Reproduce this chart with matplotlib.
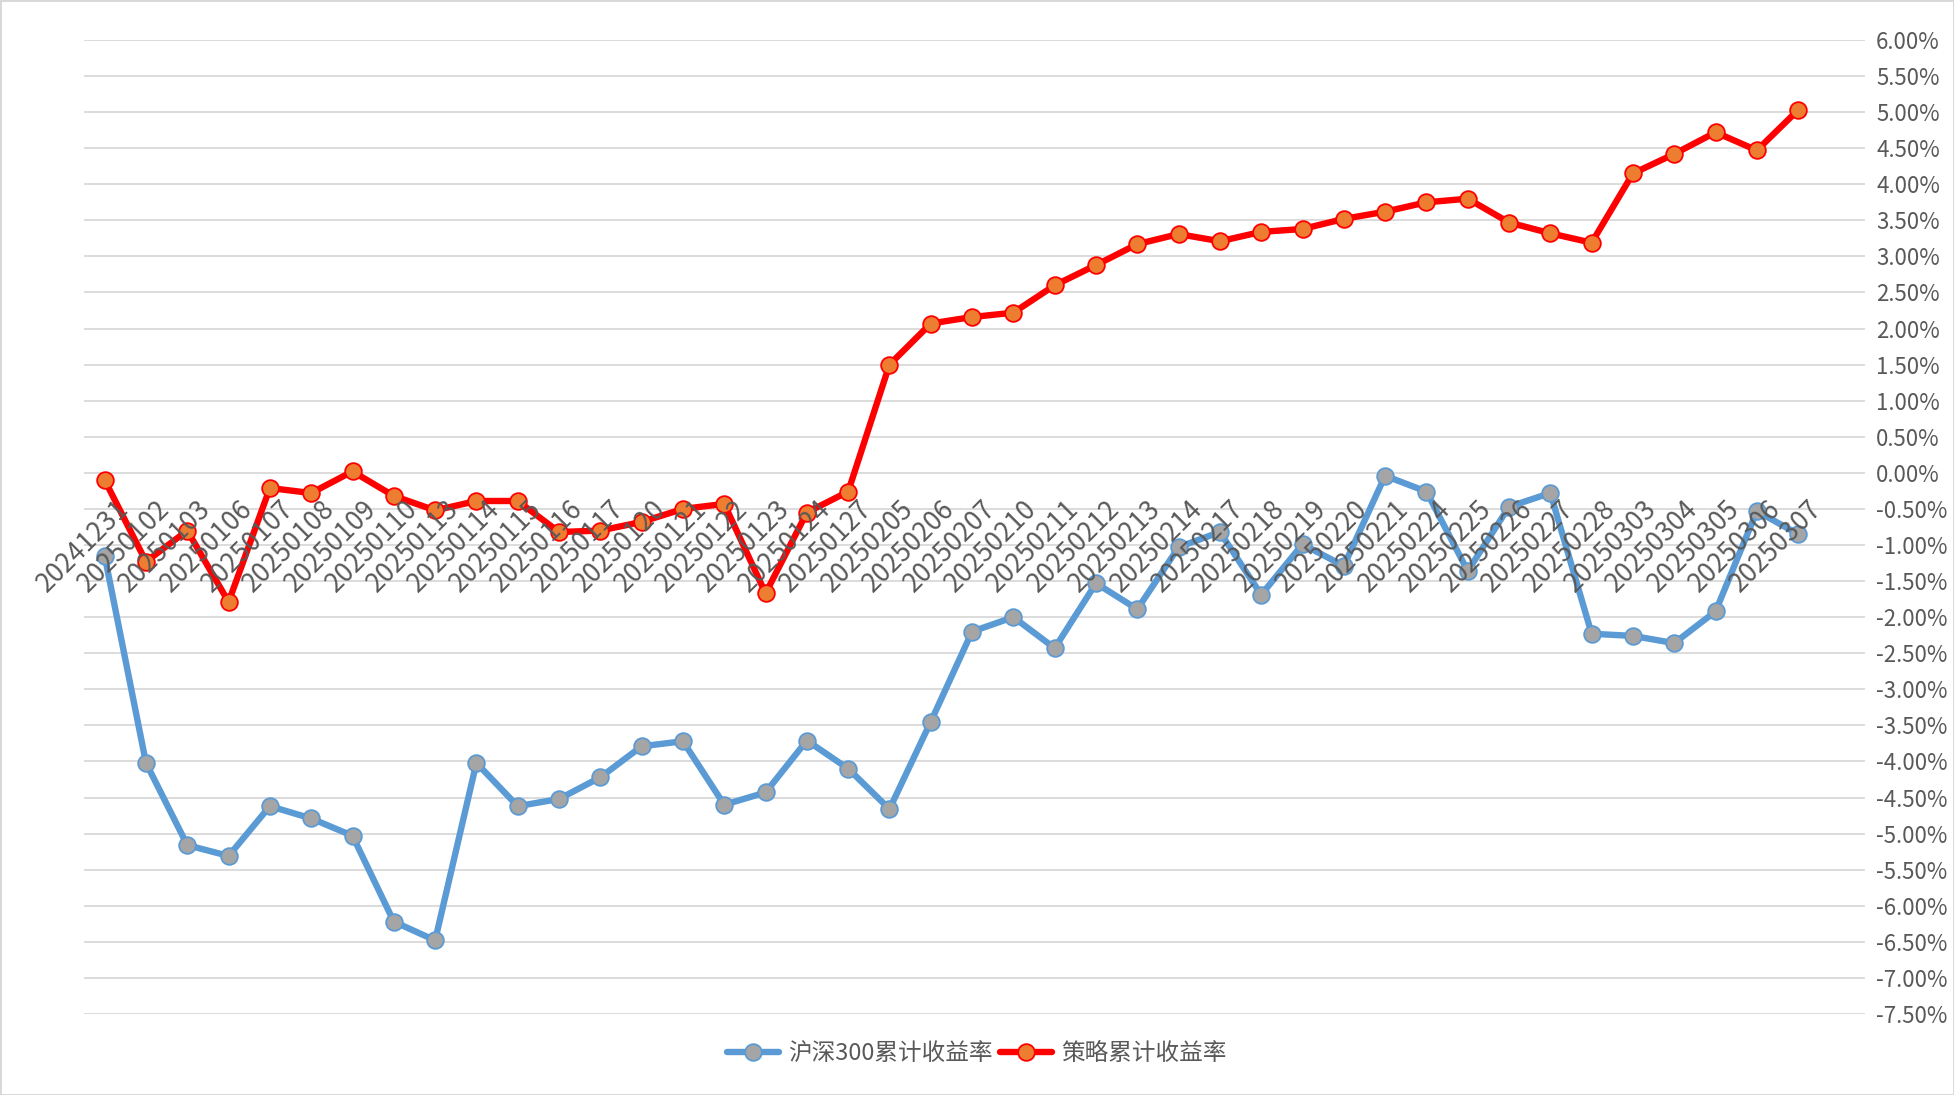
import matplotlib.pyplot as plt
from matplotlib.ticker import PercentFormatter, MultipleLocator
from matplotlib.transforms import ScaledTranslation

plt.rcParams['font.family'] = ['Noto Sans CJK SC', 'DejaVu Sans']
plt.rcParams['axes.unicode_minus'] = False

dates = ['20241231', '20250102', '20250103', '20250106', '20250107', '20250108',
         '20250109', '20250110', '20250113', '20250114', '20250115', '20250116',
         '20250117', '20250120', '20250121', '20250122', '20250123', '20250124',
         '20250127', '20250205', '20250206', '20250207', '20250210', '20250211',
         '20250212', '20250213', '20250214', '20250217', '20250218', '20250219',
         '20250220', '20250221', '20250224', '20250225', '20250226', '20250227',
         '20250228', '20250303', '20250304', '20250305', '20250306', '20250307']

# cumulative returns, in percent
hs300 = [-1.15, -4.02, -5.16, -5.31, -4.62, -4.79, -5.03, -6.22, -6.48, -4.02,
         -4.62, -4.52, -4.22, -3.79, -3.72, -4.60, -4.43, -3.71, -4.10, -4.66,
         -3.45, -2.20, -2.00, -2.43, -1.53, -1.89, -1.03, -0.82, -1.69, -0.99,
         -1.29, -0.04, -0.26, -1.36, -0.47, -0.28, -2.23, -2.26, -2.36, -1.92,
         -0.53, -0.85]
strategy = [-0.10, -1.23, -0.80, -1.79, -0.21, -0.28, 0.02, -0.32, -0.52, -0.39,
            -0.39, -0.82, -0.80, -0.68, -0.50, -0.43, -1.67, -0.55, -0.26, 1.50,
            2.07, 2.16, 2.22, 2.60, 2.88, 3.17, 3.31, 3.21, 3.34, 3.38,
            3.52, 3.62, 3.75, 3.80, 3.47, 3.32, 3.19, 4.15, 4.42, 4.72,
            4.47, 5.03]

text_color = '#595959'
grid_color = '#d9d9d9'

fig = plt.figure(figsize=(19.54, 10.95), dpi=100, edgecolor=grid_color, linewidth=2)
ax = fig.add_axes([0.043, 0.074, 0.9115, 0.8895])

x = list(range(len(dates)))
ax.plot(x, hs300, color='#5B9BD5', lw=4.6, marker='o', ms=12, solid_capstyle='round',
        mfc='#A5A5A5', mec='#5B9BD5', mew=1.3, label='沪深300累计收益率', zorder=2)
ax.plot(x, strategy, color='#FF0000', lw=4.6, marker='o', ms=12, solid_capstyle='round',
        mfc='#ED7D31', mec='#FF0000', mew=1.3, label='策略累计收益率', zorder=2.2)

ax.set_xlim(-0.5, len(dates) + 0.62)
ax.set_ylim(-7.5, 6.0)
ax.yaxis.set_major_locator(MultipleLocator(0.5))
ax.yaxis.set_major_formatter(PercentFormatter(xmax=100, decimals=2))
ax.yaxis.tick_right()
ax.tick_params(axis='y', length=0, pad=8, labelsize=16, labelcolor=text_color)
ax.grid(axis='y', color=grid_color, lw=1.3)
ax.set_axisbelow(True)

for s in ['top', 'right', 'left']:
    ax.spines[s].set_visible(False)
ax.spines['bottom'].set_position(('data', 0))
ax.spines['bottom'].set_visible(False)
ax.set_xticks(x)
ax.set_xticklabels(dates, rotation=45, ha='right', va='top', rotation_mode='anchor')
ax.tick_params(axis='x', length=0, pad=16, labelsize=19, labelcolor=text_color)
ax.xaxis.set_zorder(3)
shift = ScaledTranslation(0.1, 0, fig.dpi_scale_trans)
for lbl in ax.get_xticklabels():
    lbl.set_transform(lbl.get_transform() + shift)

leg = fig.legend(loc='lower center', bbox_to_anchor=(0.5, 0.008), ncol=2,
                 frameon=False, fontsize=17, handlelength=2.2,
                 columnspacing=0.3, handletextpad=0.4)
for t in leg.get_texts():
    t.set_color(text_color)

fig.savefig('out.png', dpi=100, edgecolor=fig.get_edgecolor())
